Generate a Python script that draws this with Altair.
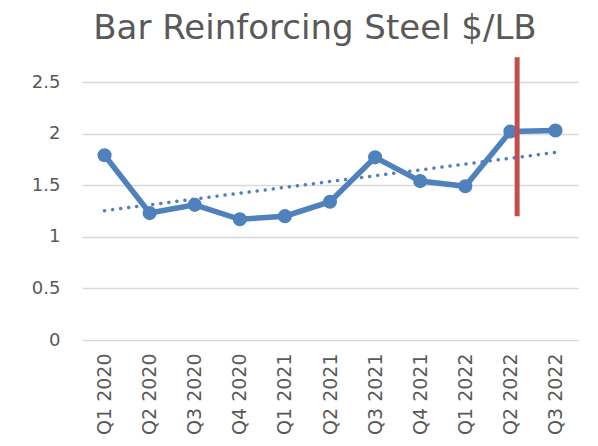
import altair as alt
import pandas as pd

quarters = ["Q1 2020", "Q2 2020", "Q3 2020", "Q4 2020", "Q1 2021", "Q2 2021",
            "Q3 2021", "Q4 2021", "Q1 2022", "Q2 2022", "Q3 2022"]
prices = [1.79, 1.23, 1.31, 1.17, 1.20, 1.34, 1.77, 1.54, 1.49, 2.02, 2.03]
y_ticks = [0, 0.5, 1, 1.5, 2, 2.5]

marker_x = [9.15]
marker_top = [2.74]
marker_bottom = [1.20]

df = pd.DataFrame({"idx": list(range(len(quarters))), "quarter": quarters, "price": prices})
marker_df = pd.DataFrame({"x": marker_x, "top": marker_top, "bottom": marker_bottom})

label_js = "[" + ",".join("'" + q + "'" for q in quarters) + "][datum.value]"

BLUE = "#4F81BD"
RED = "#C0504D"
TXT = "#595959"

x_scale = alt.Scale(domain=[-0.5, len(quarters) - 0.5], nice=False, zero=False)
y_scale = alt.Scale(domain=[0, 2.5], nice=False)

x_axis = alt.Axis(values=list(range(len(quarters))), labelExpr=label_js, labelAngle=270,
                  labelAlign="right", labelBaseline="middle", labelPadding=13,
                  labelFont="DejaVu Sans", labelFontSize=19, labelColor=TXT,
                  ticks=False, domain=False, grid=False, title=None)
y_axis = alt.Axis(values=y_ticks, format="~g", labelPadding=22, labelFont="DejaVu Sans",
                  labelFontSize=18, labelColor=TXT, ticks=False, domain=False,
                  grid=True, gridColor="#D9D9D9", gridWidth=1.5, title=None)

base = alt.Chart(df)

line = base.mark_line(color=BLUE, strokeWidth=5.5).encode(
    x=alt.X("idx:Q", scale=x_scale, axis=x_axis),
    y=alt.Y("price:Q", scale=y_scale, axis=y_axis),
)

points = base.mark_point(filled=True, color=BLUE, size=200, opacity=1).encode(
    x=alt.X("idx:Q", scale=x_scale),
    y=alt.Y("price:Q", scale=y_scale),
)

trend = base.transform_regression("idx", "price", method="linear", extent=[0, 10]).mark_line(
    color=BLUE, strokeWidth=3.5, strokeDash=[0.1, 8], strokeCap="round"
).encode(
    x=alt.X("idx:Q", scale=x_scale),
    y=alt.Y("price:Q", scale=y_scale),
)

marker = alt.Chart(marker_df).mark_rule(color=RED, strokeWidth=5).encode(
    x=alt.X("x:Q", scale=x_scale),
    y=alt.Y("top:Q", scale=y_scale),
    y2="bottom:Q",
)

chart = alt.layer(trend, line, points, marker).properties(
    width=496,
    height=258,
    autosize=alt.AutoSizeParams(type="none"),
    padding={"left": 74, "top": 74, "right": 12, "bottom": 98},
    title=alt.TitleParams(
        "Bar Reinforcing Steel $/LB", font="DejaVu Sans", fontSize=34, fontWeight="normal",
        color=TXT, anchor="middle", frame="group", offset=9, dx=-15,
    ),
).configure_view(stroke=None)

chart.save("out.html", embed_options={"renderer": "svg", "actions": False})
